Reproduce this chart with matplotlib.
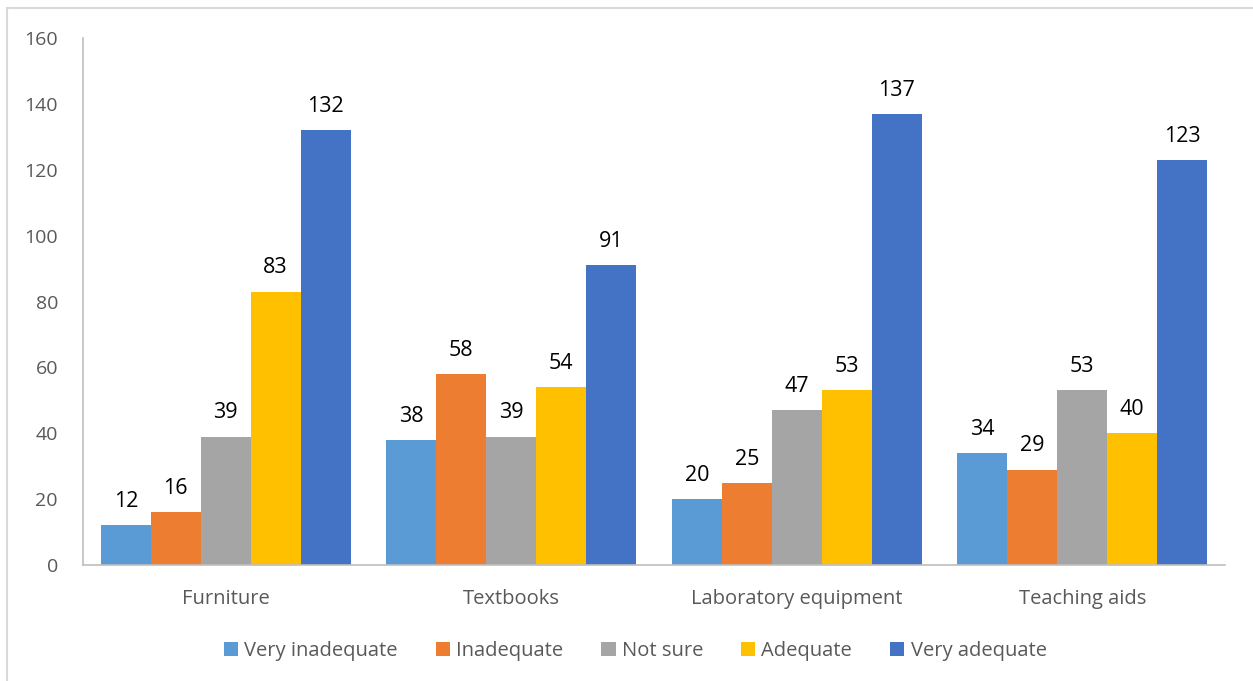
import matplotlib.pyplot as plt
import numpy as np
from matplotlib.patches import Rectangle

categories = ['Furniture', 'Textbooks', 'Laboratory equipment', 'Teaching aids']
series_names = ['Very inadequate', 'Inadequate', 'Not sure', 'Adequate', 'Very adequate']
very_inadequate = [12, 38, 20, 34]
inadequate = [16, 58, 25, 29]
not_sure = [39, 39, 47, 53]
adequate = [83, 54, 53, 40]
very_adequate = [132, 91, 137, 123]
colors = ['#5B9BD5', '#ED7D31', '#A5A5A5', '#FFC000', '#4472C4']

plt.rcParams['font.family'] = ['Open Sans', 'DejaVu Sans']

fig = plt.figure(figsize=(12.53, 6.81), dpi=100)
ax = fig.add_axes([0.0662, 0.1703, 0.9115, 0.7739])

values = [very_inadequate, inadequate, not_sure, adequate, very_adequate]
x = np.arange(len(categories))
width = 0.175
for i, (name, vals) in enumerate(zip(series_names, values)):
    pos = x + (i - 2) * width
    bars = ax.bar(pos, vals, width, color=colors[i], label=name)
    for b, v in zip(bars, vals):
        ax.text(b.get_x() + b.get_width() / 2, v + 4, str(v),
                ha='center', va='bottom', fontsize=15.5, color='black')

ax.set_xlim(-0.5, len(categories) - 0.5)
ax.set_ylim(0, 160)
ax.set_yticks(range(0, 161, 20))
ax.set_xticks(x)
ax.set_xticklabels(categories)
ax.tick_params(axis='both', length=0, labelsize=14, colors='#595959')
ax.tick_params(axis='x', pad=17, labelsize=14.5)
ax.tick_params(axis='y', pad=18)
for s in ['top', 'right']:
    ax.spines[s].set_visible(False)
for s in ['left', 'bottom']:
    ax.spines[s].set_color('#BFBFBF')
    ax.spines[s].set_linewidth(1.2)

fig.legend(loc='center', bbox_to_anchor=(0.507, 0.044), ncol=5, frameon=False,
           fontsize=14.5, handlelength=0.7, handleheight=0.7, handletextpad=0.3,
           columnspacing=1.9, labelcolor='#595959')

fig.patches.append(Rectangle((7 / 1253, -0.1), 1.2, (681 - 8) / 681 + 0.1,
                             transform=fig.transFigure, fill=False,
                             edgecolor='#D9D9D9', linewidth=1.5))

fig.savefig('out.png', dpi=100)
